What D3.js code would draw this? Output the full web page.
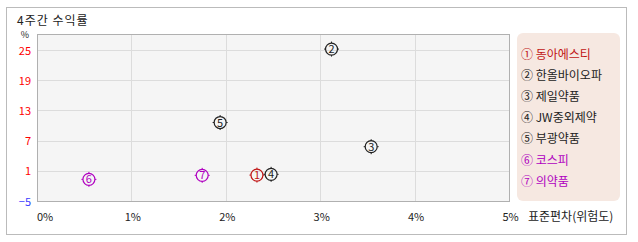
<!DOCTYPE html>
<html>
<head>
<meta charset="utf-8">
<script src="https://cdn.jsdelivr.net/npm/d3@7"></script>
<style>
  body { margin: 0; background: #fff; font-family: "Noto Sans CJK KR", "Noto Sans", sans-serif; }
  text { font-family: "Noto Sans CJK KR", "Noto Sans", sans-serif; }
</style>
</head>
<body>
<div id="chart"></div>
<script>
// Data: 4-week return vs standard deviation
var names = ["동아에스티", "한올바이오파", "제일약품", "JW중외제약", "부광약품", "코스피", "의약품"];
var marks = ["1", "2", "3", "4", "5", "6", "7"];
var stdev = [2.33, 3.12, 3.54, 2.48, 1.94, 0.55, 1.75];
var returns = [0.15, 25.2, 5.8, 0.3, 10.6, -0.7, 0.1];
var colors = ["#c01414", "#222222", "#222222", "#222222", "#222222", "#b000c0", "#b000c0"];
var yTicks = [-5, 1, 7, 13, 19, 25];
var xTicks = [0, 1, 2, 3, 4, 5];

var W = 638, H = 242;
var svg = d3.select("#chart").append("svg")
    .attr("width", W)
    .attr("height", H);

// outer frame
svg.append("rect")
    .attr("x", 6.5).attr("y", 7.5)
    .attr("width", 620).attr("height", 227)
    .attr("fill", "#fff")
    .attr("stroke", "#bbbbbb");

svg.append("text")
    .attr("x", 17).attr("y", 25)
    .style("font-size", "12px")
    .style("letter-spacing", "1px")
    .attr("fill", "#222")
    .text("4주간 수익률");

var plot = {left: 37, top: 34, right: 509, bottom: 201};

var x = d3.scaleLinear().domain([0, 5]).range([plot.left, plot.right]);
var y = d3.scaleLinear().domain([-5, 28.2]).range([plot.bottom, plot.top]);

svg.append("rect")
    .attr("x", plot.left + 0.5).attr("y", plot.top + 0.5)
    .attr("width", plot.right - plot.left).attr("height", plot.bottom - plot.top)
    .attr("fill", "#f5f5f5");

// grid
svg.selectAll("line.hgrid")
    .data(yTicks.filter(function(d) { return d > -5; }))
    .enter().append("line")
    .attr("class", "hgrid")
    .attr("x1", plot.left).attr("x2", plot.right)
    .attr("y1", function(d) { return Math.round(y(d)) + 0.5; })
    .attr("y2", function(d) { return Math.round(y(d)) + 0.5; })
    .attr("stroke", "#dcdcdc");

svg.selectAll("line.vgrid")
    .data(xTicks.filter(function(d) { return d > 0 && d < 5; }))
    .enter().append("line")
    .attr("class", "vgrid")
    .attr("y1", plot.top).attr("y2", plot.bottom)
    .attr("x1", function(d) { return Math.round(x(d)) + 0.5; })
    .attr("x2", function(d) { return Math.round(x(d)) + 0.5; })
    .attr("stroke", "#dcdcdc");

svg.append("rect")
    .attr("x", plot.left + 0.5).attr("y", plot.top + 0.5)
    .attr("width", plot.right - plot.left).attr("height", plot.bottom - plot.top)
    .attr("fill", "none")
    .attr("stroke", "#b0b0b0");

// y labels
svg.append("text")
    .attr("x", 25).attr("y", 38)
    .attr("text-anchor", "middle")
    .style("font-size", "9px")
    .attr("fill", "#222")
    .text("%");

svg.selectAll("text.ylab")
    .data(yTicks)
    .enter().append("text")
    .attr("class", "ylab")
    .attr("x", 31)
    .attr("y", function(d) { return y(d) + 4.5; })
    .attr("text-anchor", "end")
    .style("font-size", "11px")
    .attr("fill", function(d) { return d < 0 ? "#3a3aff" : "#ff0000"; })
    .text(function(d) { return d < 0 ? "\u2212" + Math.abs(d) : d; });

// x labels
svg.selectAll("text.xlab")
    .data(xTicks)
    .enter().append("text")
    .attr("class", "xlab")
    .attr("x", function(d) { return d === 0 ? x(d) : x(d) + 1.5; })
    .attr("y", 221)
    .attr("text-anchor", function(d) { return d === 0 ? "start" : "middle"; })
    .style("font-size", "11px")
    .attr("fill", "#222")
    .text(function(d) { return d + "%"; });

svg.append("text")
    .attr("x", 528).attr("y", 221)
    .style("font-size", "12px")
    .attr("fill", "#222")
    .text("표준편차(위험도)");

// points
var pts = svg.selectAll("g.pt")
    .data(d3.range(names.length))
    .enter().append("g")
    .attr("class", "pt")
    .attr("transform", function(i) {
        return "translate(" + x(stdev[i]) + "," + y(returns[i]) + ")";
    });

pts.append("circle")
    .attr("r", 6)
    .attr("fill", "none")
    .attr("stroke", function(i) { return colors[i]; })
    .attr("stroke-width", 1.2);

[[0, -6, 0, -7.5], [0, 6, 0, 7.5], [-6, 0, -7.5, 0], [6, 0, 7.5, 0]].forEach(function(t) {
    pts.append("line")
        .attr("x1", t[0]).attr("y1", t[1]).attr("x2", t[2]).attr("y2", t[3])
        .attr("stroke", function(i) { return colors[i]; });
});

pts.append("text")
    .attr("y", 4)
    .attr("text-anchor", "middle")
    .style("font-size", "11px")
    .attr("fill", function(i) { return colors[i]; })
    .text(function(i) { return marks[i]; });

// legend
svg.append("rect")
    .attr("x", 517).attr("y", 33)
    .attr("width", 103).attr("height", 168)
    .attr("rx", 6).attr("ry", 6)
    .attr("fill", "#f6e8e1");

var circled = ["\u2460", "\u2461", "\u2462", "\u2463", "\u2464", "\u2465", "\u2466"];
svg.selectAll("text.leg")
    .data(d3.range(names.length))
    .enter().append("text")
    .attr("class", "leg")
    .attr("x", 521)
    .attr("y", function(i) { return 58.5 + i * 21.2; })
    .style("font-size", "12px")
    .attr("fill", function(i) { return colors[i]; })
    .text(function(i) { return circled[i] + " " + names[i]; });
</script>
</body>
</html>
